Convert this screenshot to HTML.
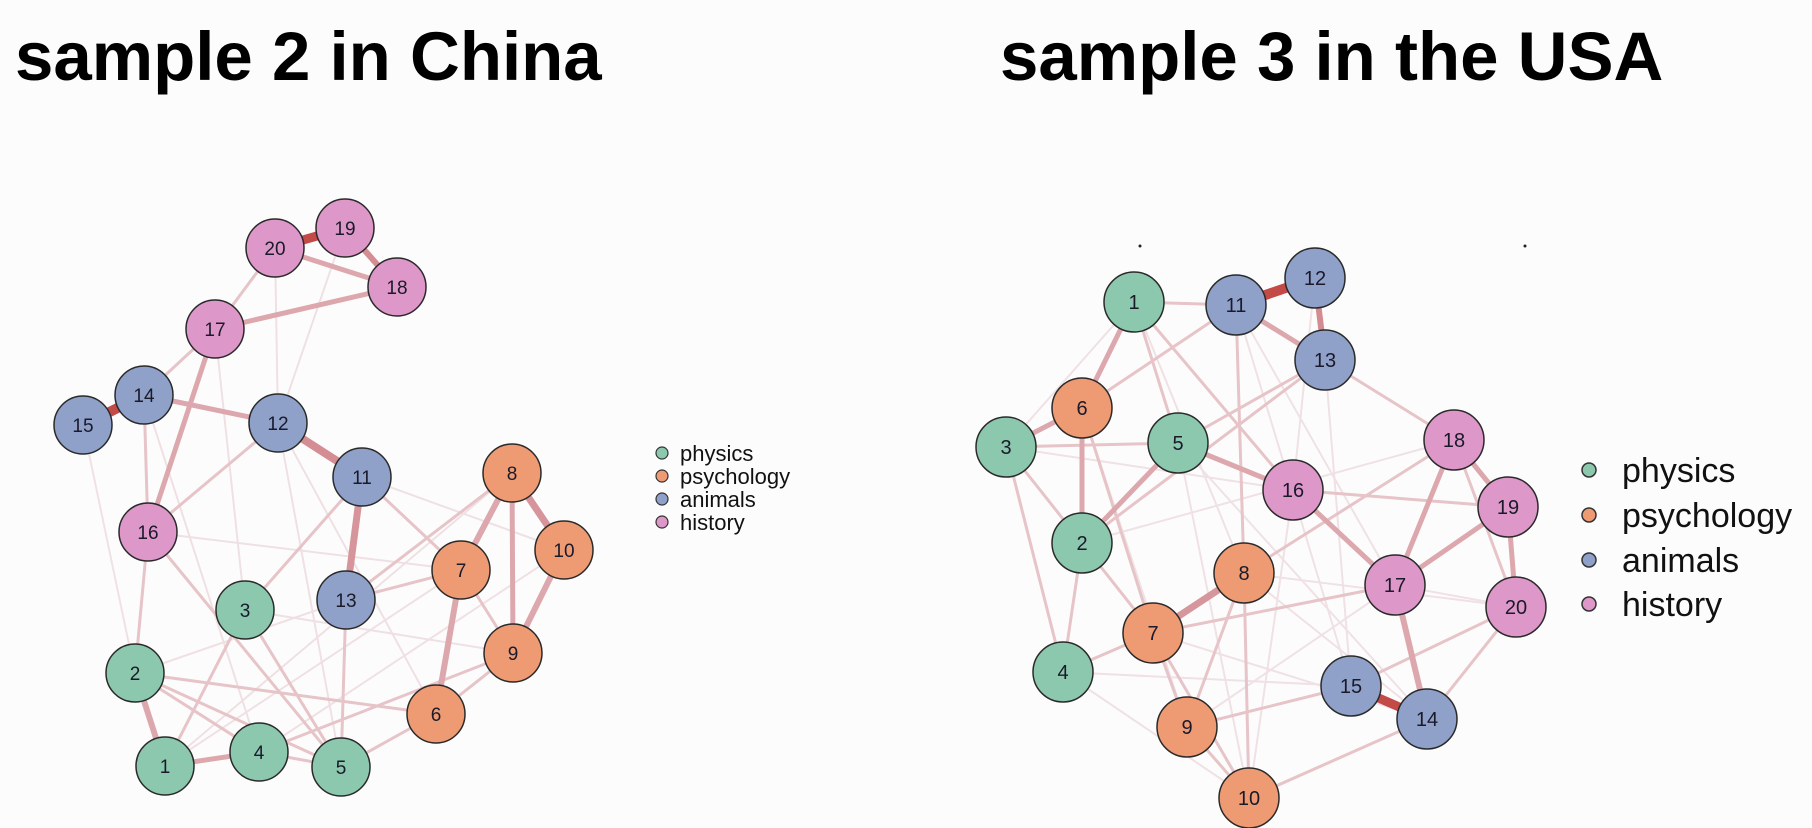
<!DOCTYPE html>
<html><head><meta charset="utf-8"><style>
html,body{margin:0;padding:0;background:#fdfcfd;}
svg{display:block}
text{font-family:"Liberation Sans",Arial,sans-serif}
</style></head><body>
<svg width="1812" height="828" viewBox="0 0 1812 828" xmlns="http://www.w3.org/2000/svg">
<rect width="1812" height="828" fill="#fdfcfd"/>
<text x="15" y="80" font-size="69" font-weight="bold" fill="#000">sample 2 in China</text>
<text x="1000" y="80" font-size="69" font-weight="bold" fill="#000">sample 3 in the USA</text>

<g stroke="#ecdadd" stroke-width="2" fill="none" opacity="0.8">
<line x1="144" y1="395" x2="259" y2="752"/>
<line x1="278" y1="423" x2="341" y2="767"/>
<line x1="512" y1="473" x2="165" y2="766"/>
<line x1="564" y1="550" x2="259" y2="752"/>
<line x1="215" y1="329" x2="245" y2="610"/>
<line x1="345" y1="228" x2="278" y2="423"/>
<line x1="275" y1="248" x2="278" y2="423"/>
<line x1="83" y1="425" x2="135" y2="673"/>
<line x1="461" y1="570" x2="165" y2="766"/>
<line x1="513" y1="653" x2="259" y2="752"/>
<line x1="148" y1="532" x2="461" y2="570"/>
<line x1="245" y1="610" x2="513" y2="653"/>
<line x1="346" y1="600" x2="135" y2="673"/>
<line x1="362" y1="477" x2="564" y2="550"/>
<line x1="278" y1="423" x2="436" y2="714"/>
</g>
<g stroke="#e6c4c8" stroke-width="3" fill="none">
<line x1="215" y1="329" x2="275" y2="248"/>
<line x1="215" y1="329" x2="144" y2="395"/>
<line x1="278" y1="423" x2="148" y2="532"/>
<line x1="362" y1="477" x2="245" y2="610"/>
<line x1="362" y1="477" x2="461" y2="570"/>
<line x1="346" y1="600" x2="461" y2="570"/>
<line x1="346" y1="600" x2="341" y2="767"/>
<line x1="513" y1="653" x2="436" y2="714"/>
<line x1="461" y1="570" x2="513" y2="653"/>
<line x1="148" y1="532" x2="135" y2="673"/>
<line x1="148" y1="532" x2="341" y2="767"/>
<line x1="135" y1="673" x2="341" y2="767"/>
<line x1="135" y1="673" x2="259" y2="752"/>
<line x1="135" y1="673" x2="436" y2="714"/>
<line x1="245" y1="610" x2="165" y2="766"/>
<line x1="245" y1="610" x2="341" y2="767"/>
<line x1="259" y1="752" x2="341" y2="767"/>
<line x1="436" y1="714" x2="341" y2="767"/>
<line x1="259" y1="752" x2="513" y2="653"/>
<line x1="512" y1="473" x2="346" y2="600"/>
<line x1="144" y1="395" x2="148" y2="532"/>
</g>
<g stroke="#dca8ad" fill="none">
<line x1="275" y1="248" x2="397" y2="287" stroke-width="5"/>
<line x1="215" y1="329" x2="397" y2="287" stroke-width="5"/>
<line x1="345" y1="228" x2="397" y2="287" stroke-width="6" stroke="#d48e93"/>
<line x1="144" y1="395" x2="278" y2="423" stroke-width="5"/>
<line x1="278" y1="423" x2="362" y2="477" stroke-width="8" stroke="#d48e93"/>
<line x1="215" y1="329" x2="148" y2="532" stroke-width="5"/>
<line x1="362" y1="477" x2="346" y2="600" stroke-width="7" stroke="#d6959a"/>
<line x1="512" y1="473" x2="461" y2="570" stroke-width="6"/>
<line x1="512" y1="473" x2="564" y2="550" stroke-width="7" stroke="#d6959a"/>
<line x1="512" y1="473" x2="513" y2="653" stroke-width="5"/>
<line x1="564" y1="550" x2="513" y2="653" stroke-width="6"/>
<line x1="461" y1="570" x2="436" y2="714" stroke-width="6"/>
<line x1="135" y1="673" x2="165" y2="766" stroke-width="6"/>
<line x1="165" y1="766" x2="259" y2="752" stroke-width="5"/>
<line x1="275" y1="248" x2="345" y2="228" stroke-width="9" stroke="#c24b48"/>
<line x1="144" y1="395" x2="83" y2="425" stroke-width="10" stroke="#c24b48"/>
</g>
<g stroke="#2a2a2a" stroke-width="1.5">
<circle cx="275" cy="248" r="29" fill="#dd97c8"/>
<circle cx="345" cy="228" r="29" fill="#dd97c8"/>
<circle cx="397" cy="287" r="29" fill="#dd97c8"/>
<circle cx="215" cy="329" r="29" fill="#dd97c8"/>
<circle cx="148" cy="532" r="29" fill="#dd97c8"/>
<circle cx="144" cy="395" r="29" fill="#8fa0c9"/>
<circle cx="83" cy="425" r="29" fill="#8fa0c9"/>
<circle cx="278" cy="423" r="29" fill="#8fa0c9"/>
<circle cx="362" cy="477" r="29" fill="#8fa0c9"/>
<circle cx="346" cy="600" r="29" fill="#8fa0c9"/>
<circle cx="512" cy="473" r="29" fill="#ee9b73"/>
<circle cx="564" cy="550" r="29" fill="#ee9b73"/>
<circle cx="461" cy="570" r="29" fill="#ee9b73"/>
<circle cx="513" cy="653" r="29" fill="#ee9b73"/>
<circle cx="436" cy="714" r="29" fill="#ee9b73"/>
<circle cx="245" cy="610" r="29" fill="#8cc8ae"/>
<circle cx="135" cy="673" r="29" fill="#8cc8ae"/>
<circle cx="165" cy="766" r="29" fill="#8cc8ae"/>
<circle cx="259" cy="752" r="29" fill="#8cc8ae"/>
<circle cx="341" cy="767" r="29" fill="#8cc8ae"/>
</g>
<g font-size="19" text-anchor="middle" fill="#1a1a2a">
<text x="275" y="255">20</text><text x="345" y="235">19</text><text x="397" y="294">18</text>
<text x="215" y="336">17</text><text x="148" y="539">16</text><text x="144" y="402">14</text>
<text x="83" y="432">15</text><text x="278" y="430">12</text><text x="362" y="484">11</text>
<text x="346" y="607">13</text><text x="512" y="480">8</text><text x="564" y="557">10</text>
<text x="461" y="577">7</text><text x="513" y="660">9</text><text x="436" y="721">6</text>
<text x="245" y="617">3</text><text x="135" y="680">2</text><text x="165" y="773">1</text>
<text x="259" y="759">4</text><text x="341" y="774">5</text>
</g>
<g stroke="#333" stroke-width="1.2">
<circle cx="662" cy="453" r="6" fill="#8cc8ae"/>
<circle cx="662" cy="476" r="6" fill="#ee9b73"/>
<circle cx="662" cy="499" r="6" fill="#8fa0c9"/>
<circle cx="662" cy="522" r="6" fill="#dd97c8"/>
</g>
<g font-size="22" fill="#111">
<text x="680" y="461">physics</text><text x="680" y="484">psychology</text>
<text x="680" y="507">animals</text><text x="680" y="530">history</text>
</g>

<circle cx="1140" cy="246" r="1.5" fill="#222"/>
<circle cx="1525" cy="246" r="1.5" fill="#222"/>
<g stroke="#efe1e4" stroke-width="2" fill="none">
<line x1="1134" y1="302" x2="1244" y2="573"/>
<line x1="1236" y1="305" x2="1395" y2="585"/>
<line x1="1315" y1="278" x2="1293" y2="490"/>
<line x1="1325" y1="360" x2="1351" y2="686"/>
<line x1="1006" y1="447" x2="1293" y2="490"/>
<line x1="1082" y1="408" x2="1187" y2="727"/>
<line x1="1178" y1="443" x2="1249" y2="798"/>
<line x1="1063" y1="672" x2="1351" y2="686"/>
<line x1="1063" y1="672" x2="1249" y2="798"/>
<line x1="1082" y1="543" x2="1454" y2="440"/>
<line x1="1153" y1="633" x2="1427" y2="719"/>
<line x1="1244" y1="573" x2="1516" y2="607"/>
<line x1="1187" y1="727" x2="1395" y2="585"/>
<line x1="1293" y1="490" x2="1249" y2="798"/>
<line x1="1236" y1="305" x2="1351" y2="686"/>
<line x1="1178" y1="443" x2="1427" y2="719"/>
<line x1="1006" y1="447" x2="1134" y2="302"/>
<line x1="1395" y1="585" x2="1516" y2="607"/>
<line x1="1244" y1="573" x2="1427" y2="719"/>
</g>
<g stroke="#e6c4c8" stroke-width="3" fill="none">
<line x1="1134" y1="302" x2="1236" y2="305"/>
<line x1="1134" y1="302" x2="1178" y2="443"/>
<line x1="1134" y1="302" x2="1293" y2="490"/>
<line x1="1082" y1="408" x2="1236" y2="305"/>
<line x1="1006" y1="447" x2="1178" y2="443"/>
<line x1="1006" y1="447" x2="1082" y2="543"/>
<line x1="1006" y1="447" x2="1063" y2="672"/>
<line x1="1082" y1="543" x2="1063" y2="672"/>
<line x1="1082" y1="543" x2="1153" y2="633"/>
<line x1="1082" y1="408" x2="1153" y2="633"/>
<line x1="1178" y1="443" x2="1325" y2="360"/>
<line x1="1236" y1="305" x2="1244" y2="573"/>
<line x1="1244" y1="573" x2="1187" y2="727"/>
<line x1="1244" y1="573" x2="1249" y2="798"/>
<line x1="1244" y1="573" x2="1454" y2="440"/>
<line x1="1153" y1="633" x2="1063" y2="672"/>
<line x1="1153" y1="633" x2="1187" y2="727"/>
<line x1="1153" y1="633" x2="1249" y2="798"/>
<line x1="1153" y1="633" x2="1395" y2="585"/>
<line x1="1187" y1="727" x2="1249" y2="798"/>
<line x1="1187" y1="727" x2="1351" y2="686"/>
<line x1="1249" y1="798" x2="1427" y2="719"/>
<line x1="1351" y1="686" x2="1516" y2="607"/>
<line x1="1427" y1="719" x2="1516" y2="607"/>
<line x1="1293" y1="490" x2="1508" y2="507"/>
<line x1="1082" y1="543" x2="1325" y2="360"/>
<line x1="1325" y1="360" x2="1454" y2="440"/>
<line x1="1454" y1="440" x2="1516" y2="607"/>
</g>
<g stroke="#dca8ad" fill="none">
<line x1="1134" y1="302" x2="1082" y2="408" stroke-width="5"/>
<line x1="1082" y1="408" x2="1006" y2="447" stroke-width="5"/>
<line x1="1082" y1="408" x2="1082" y2="543" stroke-width="5"/>
<line x1="1178" y1="443" x2="1082" y2="543" stroke-width="5"/>
<line x1="1178" y1="443" x2="1293" y2="490" stroke-width="5"/>
<line x1="1236" y1="305" x2="1325" y2="360" stroke-width="5"/>
<line x1="1244" y1="573" x2="1153" y2="633" stroke-width="7" stroke="#d6979c"/>
<line x1="1293" y1="490" x2="1395" y2="585" stroke-width="5"/>
<line x1="1454" y1="440" x2="1395" y2="585" stroke-width="5"/>
<line x1="1508" y1="507" x2="1395" y2="585" stroke-width="5"/>
<line x1="1454" y1="440" x2="1508" y2="507" stroke-width="5"/>
<line x1="1508" y1="507" x2="1516" y2="607" stroke-width="5"/>
<line x1="1395" y1="585" x2="1427" y2="719" stroke-width="6"/>
<line x1="1315" y1="278" x2="1325" y2="360" stroke-width="6" stroke="#d38c91"/>
<line x1="1236" y1="305" x2="1315" y2="278" stroke-width="10" stroke="#c24b48"/>
<line x1="1351" y1="686" x2="1427" y2="719" stroke-width="9" stroke="#c24b48"/>
</g>
<g stroke="#2a2a2a" stroke-width="1.5">
<circle cx="1134" cy="302" r="30" fill="#8cc8ae"/>
<circle cx="1006" cy="447" r="30" fill="#8cc8ae"/>
<circle cx="1178" cy="443" r="30" fill="#8cc8ae"/>
<circle cx="1082" cy="543" r="30" fill="#8cc8ae"/>
<circle cx="1063" cy="672" r="30" fill="#8cc8ae"/>
<circle cx="1082" cy="408" r="30" fill="#ee9b73"/>
<circle cx="1244" cy="573" r="30" fill="#ee9b73"/>
<circle cx="1153" cy="633" r="30" fill="#ee9b73"/>
<circle cx="1187" cy="727" r="30" fill="#ee9b73"/>
<circle cx="1249" cy="798" r="30" fill="#ee9b73"/>
<circle cx="1236" cy="305" r="30" fill="#8fa0c9"/>
<circle cx="1315" cy="278" r="30" fill="#8fa0c9"/>
<circle cx="1325" cy="360" r="30" fill="#8fa0c9"/>
<circle cx="1351" cy="686" r="30" fill="#8fa0c9"/>
<circle cx="1427" cy="719" r="30" fill="#8fa0c9"/>
<circle cx="1293" cy="490" r="30" fill="#dd97c8"/>
<circle cx="1454" cy="440" r="30" fill="#dd97c8"/>
<circle cx="1508" cy="507" r="30" fill="#dd97c8"/>
<circle cx="1395" cy="585" r="30" fill="#dd97c8"/>
<circle cx="1516" cy="607" r="30" fill="#dd97c8"/>
</g>
<g font-size="20" text-anchor="middle" fill="#1a1a2a">
<text x="1134" y="309">1</text><text x="1006" y="454">3</text><text x="1178" y="450">5</text>
<text x="1082" y="550">2</text><text x="1063" y="679">4</text><text x="1082" y="415">6</text>
<text x="1244" y="580">8</text><text x="1153" y="640">7</text><text x="1187" y="734">9</text>
<text x="1249" y="805">10</text><text x="1236" y="312">11</text><text x="1315" y="285">12</text>
<text x="1325" y="367">13</text><text x="1351" y="693">15</text><text x="1427" y="726">14</text>
<text x="1293" y="497">16</text><text x="1454" y="447">18</text><text x="1508" y="514">19</text>
<text x="1395" y="592">17</text><text x="1516" y="614">20</text>
</g>
<g stroke="#333" stroke-width="1.5">
<circle cx="1589" cy="470" r="7" fill="#8cc8ae"/>
<circle cx="1589" cy="515" r="7" fill="#ee9b73"/>
<circle cx="1589" cy="560" r="7" fill="#8fa0c9"/>
<circle cx="1589" cy="604" r="7" fill="#dd97c8"/>
</g>
<g font-size="34" fill="#111">
<text x="1622" y="482">physics</text><text x="1622" y="527">psychology</text>
<text x="1622" y="572">animals</text><text x="1622" y="616">history</text>
</g>
</svg>
</body></html>
